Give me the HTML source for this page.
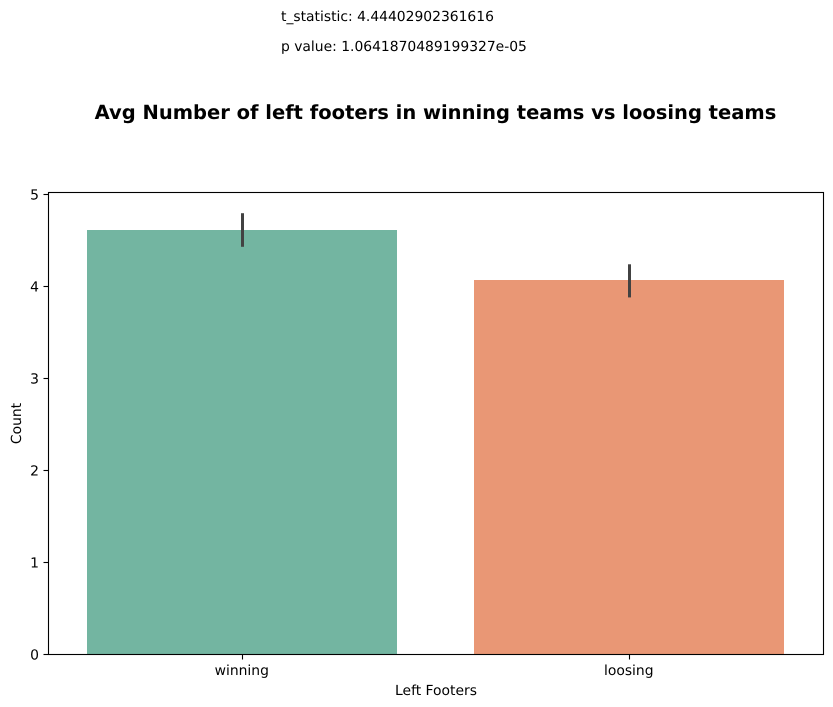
<!DOCTYPE html>
<html>
<head>
<meta charset="utf-8">
<style>
html,body{margin:0;padding:0;background:#fff;width:833px;height:707px;overflow:hidden}
svg{display:block}
text{font-family:"DejaVu Sans","Liberation Sans",sans-serif;fill:#000;text-rendering:geometricPrecision}
</style>
</head>
<body>
<svg id="chart" width="833" height="707" viewBox="0 0 833 707" xmlns="http://www.w3.org/2000/svg">
<text x="281" y="21" font-size="13.89">t_statistic: 4.44402902361616</text>
<text x="281" y="51" font-size="13.89">p value: 1.0641870489199327e-05</text>
<text x="435.5" y="119" font-size="19.5" font-weight="bold" text-anchor="middle">Avg Number of left footers in winning teams vs loosing teams</text>
<g id="plot"></g>
<text x="436" y="695" font-size="13.89" text-anchor="middle">Left Footers</text>
<text x="0" y="0" font-size="13.89" text-anchor="middle" transform="translate(21,423.5) rotate(-90)">Count</text>
</svg>
<script>
const categories = ['winning', 'loosing'];
const means = [4.61, 4.07];
const errLow = [4.43, 3.88];
const errHigh = [4.795, 4.24];
const barColors = ['#73b5a1', '#e99775'];
const yTicks = [0, 1, 2, 3, 4, 5];

const NS = 'http://www.w3.org/2000/svg';
const plot = document.getElementById('plot');
const left = 48.5, right = 823.5, top_ = 192.5, bottom = 654.5;
const yMax = 5.02;
const step = 387, firstCenter = 242, barW = 310;
function xPos(i) { return firstCenter + i * step; }
function yPos(v) { return bottom - (v / yMax) * (bottom - top_); }
function mk(tag, attrs) {
  const e = document.createElementNS(NS, tag);
  for (const k in attrs) e.setAttribute(k, attrs[k]);
  plot.appendChild(e);
  return e;
}
categories.forEach(function (c, i) {
  const cx = xPos(i);
  const b = mk('rect', { x: cx - barW / 2, y: yPos(means[i]), width: barW, height: bottom - yPos(means[i]), fill: barColors[i], 'shape-rendering': 'crispEdges' });
  
  
  const er = mk('line', { x1: cx + 0.5, x2: cx + 0.5, y1: yPos(errLow[i]), y2: yPos(errHigh[i]), stroke: '#424242', 'stroke-width': 3 });
  
  
  const t = mk('line', { x1: cx + 0.5, x2: cx + 0.5, y1: bottom, y2: bottom + 5, stroke: '#000', 'stroke-width': 1.1 });
  
  
  const l = mk('text', { x: cx - 0.25, y: bottom + 20.5, 'font-size': 13.89, 'text-anchor': 'middle' });
  l.textContent = c;
  
  
});
yTicks.forEach(function (v) {
  const y = Math.round(yPos(v) - 0.5) + 0.5;
  const t = mk('line', { x1: left - 5, x2: left, y1: y, y2: y, stroke: '#000', 'stroke-width': 1.1 });
  
  
  const l = mk('text', { x: left - 9.5, y: y + 5, 'font-size': 13.89, 'text-anchor': 'end' });
  l.textContent = v;
  
  
});
const frame = mk('rect', { x: left, y: top_, width: right - left, height: bottom - top_, fill: 'none', stroke: '#000', 'stroke-width': 1.1 });


</script>
</body>
</html>
